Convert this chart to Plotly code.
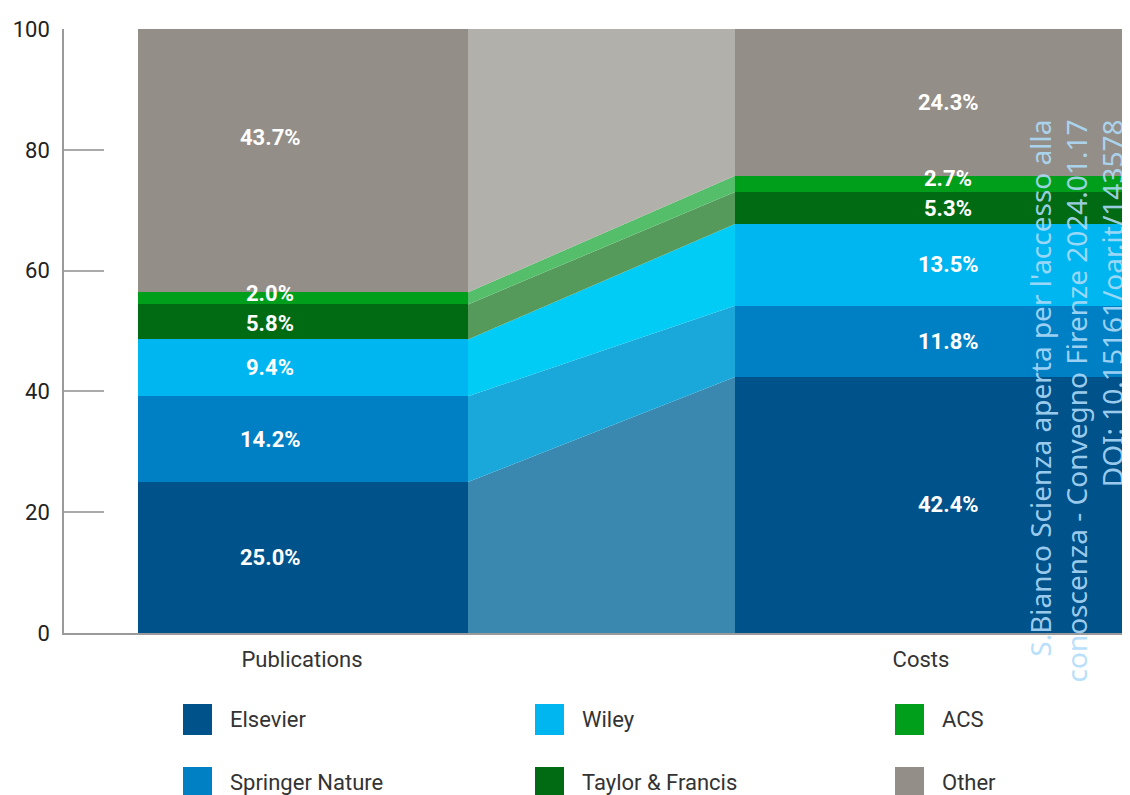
import plotly.graph_objects as go

# ---- data ----
categories = ["Publications", "Costs"]
publishers = ["Elsevier", "Springer Nature", "Wiley", "Taylor & Francis", "ACS", "Other"]
publications = [25.0, 14.2, 9.4, 5.8, 2.0, 43.7]
costs = [42.4, 11.8, 13.5, 5.3, 2.7, 24.3]
y_ticks = [0, 20, 40, 60, 80, 100]

# ---- styles ----
bar_colors = ["#00528A", "#0080C4", "#00B6F0", "#006B12", "#009F1B", "#938E87"]
band_colors = ["#3A87AF", "#1AA8DA", "#00CCF5", "#559A5A", "#55BE6A", "#B2B0AB"]
OFF = 8  # page body margin
PAGE_W, PAGE_H = 1130, 795
W, H = PAGE_W - OFF, PAGE_H - OFF
# desired plot area in page pixels
P_LEFT, P_RIGHT, P_TOP, P_BOTTOM = 64, 1127, 29, 633
ML = P_LEFT - OFF
MT = P_TOP - OFF
MR = W - (P_RIGHT - OFF)
MB = H - (P_BOTTOM - OFF)
bar_centers = [303, 930.5]
bar_widths = [330, 391]
label_x = [270, 948]
tick_x = [302, 921]
FONT = "Roboto"
# small vertical nudges for label readability (style only)
label_nudge = {("Publications", "Other"): 3.8, ("Publications", "ACS"): 0.8,
               ("Costs", "ACS"): 0.9, ("Publications", "Taylor & Francis"): -0.2}

fig = go.Figure()

# stacked bars
for i, name in enumerate(publishers):
    fig.add_trace(go.Bar(
        x=bar_centers, y=[publications[i], costs[i]], width=bar_widths,
        marker=dict(color=bar_colors[i], line=dict(width=0)),
        name=name, showlegend=False, hoverinfo="skip"))

# connecting bands between bars
x_left = bar_centers[0] + bar_widths[0] / 2
x_right = bar_centers[1] - bar_widths[1] / 2
cum_p, cum_c = 0.0, 0.0
label_pos = []
for i, name in enumerate(publishers):
    p0, c0 = cum_p, cum_c
    cum_p += publications[i]
    cum_c += costs[i]
    fig.add_trace(go.Scatter(
        x=[x_left, x_right, x_right, x_left, x_left],
        y=[p0, c0, cum_c, cum_p, p0],
        fill="toself", fillcolor=band_colors[i], mode="lines",
        line=dict(width=0), showlegend=False, hoverinfo="skip"))
    label_pos.append(((p0 + cum_p) / 2, (c0 + cum_c) / 2))

annotations = []
for i, name in enumerate(publishers):
    for j, vals in enumerate([publications, costs]):
        yv = label_pos[i][j] + label_nudge.get((categories[j], name), 0)
        annotations.append(dict(
            x=label_x[j], y=yv, xref="x", yref="y",
            text=f"{vals[i]:.1f}%", showarrow=False,
            font=dict(family=FONT, size=22, color="white", weight="bold")))

# manual legend (page pixel -> paper coords)
pw = P_RIGHT - P_LEFT
ph = P_BOTTOM - P_TOP
def px(x):
    return (x - P_LEFT) / pw
def py(y):
    return (P_BOTTOM - y) / ph

legend_layout = [(0, 183, 704), (1, 183, 767), (2, 535, 704), (3, 535, 767), (4, 895, 704), (5, 895, 767)]
shapes = []
for idx, sx, sy in legend_layout:
    shapes.append(dict(type="rect", xref="paper", yref="paper",
                       x0=px(sx), x1=px(sx + 29), y0=py(sy), y1=py(sy + 31),
                       fillcolor=bar_colors[idx], line=dict(width=0)))
    annotations.append(dict(xref="paper", yref="paper", x=px(sx + 45), y=py(sy + 15),
                            xanchor="left", yanchor="middle", showarrow=False,
                            text=publishers[idx],
                            font=dict(family=FONT, size=22, color="#333333")))

# watermark
annotations.append(dict(
    xref="paper", yref="paper", x=px(1076), y=py(118), xanchor="center", yanchor="top",
    textangle=-90, align="right", showarrow=False,
    text="S.Bianco Scienza aperta per l'accesso alla<br>conoscenza - Convegno Firenze 2024.01.17<br>DOI: 10.15161/oar.it/143578",
    font=dict(family="Noto Sans", size=28, color="rgba(175,220,250,0.9)")))

fig.update_layout(
    width=W, height=H, margin=dict(l=ML, r=MR, t=MT, b=MB),
    barmode="stack", bargap=0,
    plot_bgcolor="white", paper_bgcolor="white",
    showlegend=False,
    annotations=annotations, shapes=shapes,
    xaxis=dict(range=[P_LEFT, P_RIGHT], tickvals=tick_x, ticktext=categories,
               showgrid=False, zeroline=False, showline=True, linecolor="#9a9a9a",
               linewidth=1.5, ticks="", ticklabelstandoff=6,
               tickfont=dict(family=FONT, size=22, color="#333333")),
    yaxis=dict(range=[0, 100], tickvals=y_ticks, showgrid=False, zeroline=False,
               showline=True, linecolor="#9a9a9a", linewidth=1.5,
               ticks="inside", ticklen=40, tickcolor="#aaaaaa", tickwidth=1.5,
               ticklabelstandoff=8,
               tickfont=dict(family=FONT, size=22, color="#222222")),
)

fig.write_html("out.html")
